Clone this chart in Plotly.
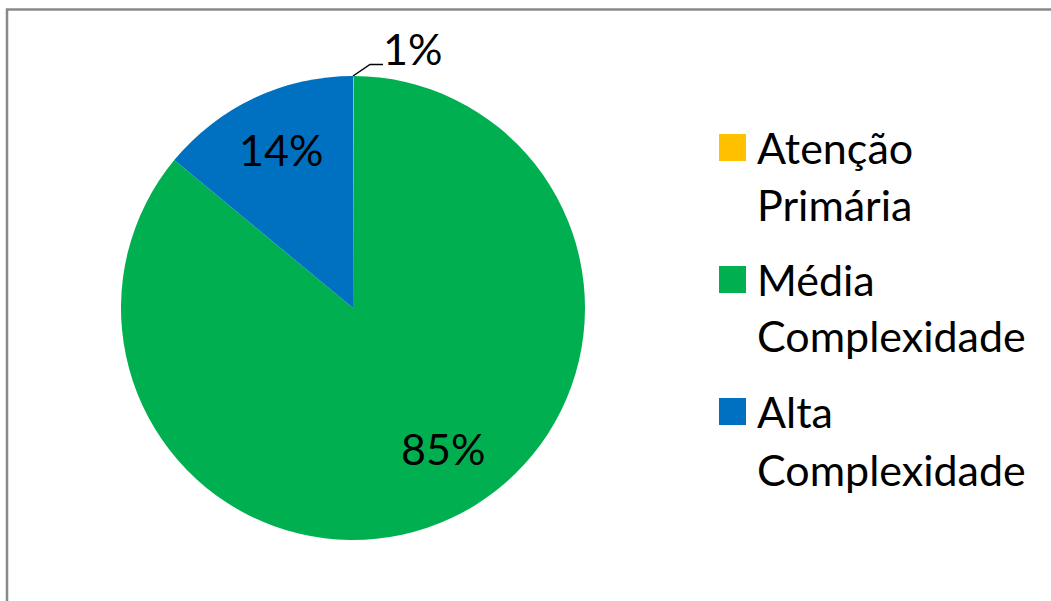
import plotly.graph_objects as go

W, H = 1051, 601

categories = ["Atenção Primária", "Média Complexidade", "Alta Complexidade"]
values = [0.05, 85.95, 14.0]
pct_labels = ["1%", "85%", "14%"]
colors = ["#FFC000", "#00B050", "#0070C0"]
legend_lines = [["Atenção", "Primária"], ["Média", "Complexidade"], ["Alta", "Complexidade"]]

FONT = "Lato"
FS = 43


def px(x):
    return x / W


def py(y):
    return 1 - y / H


fig = go.Figure()
fig.add_trace(go.Pie(
    labels=categories,
    values=values,
    textinfo="none",
    marker=dict(colors=colors, line=dict(width=0)),
    sort=False,
    direction="clockwise",
    rotation=0,
    showlegend=False,
    hoverinfo="label+percent",
    domain=dict(x=[px(121), px(585)], y=[py(540), py(76)]),
))

shapes = [
    # chart frame (left and top edges visible)
    dict(type="path", xref="paper", yref="paper",
         path=f"M {px(7)},{py(601)} L {px(7)},{py(9.5)} L {px(1051)},{py(9.5)}",
         line=dict(color="#898989", width=2.5)),
    # leader line for small slice
    dict(type="path", xref="paper", yref="paper",
         path=f"M {px(353)},{py(76)} L {px(370)},{py(64.5)} L {px(383)},{py(64.5)}",
         line=dict(color="black", width=1.5)),
]

label_pos = [(412, 48), (443, 448), (281, 149)]
annotations = []
for lab, (x, y) in zip(pct_labels, label_pos):
    annotations.append(dict(x=px(x), y=py(y), xref="paper", yref="paper", text=lab,
                            showarrow=False, xanchor="center", yanchor="middle",
                            font=dict(family=FONT, size=FS, color="black")))

sw_tops = [134, 266, 398]
line_centers = [[147, 205], [279, 336], [412, 469]]
for i, (col, lines) in enumerate(zip(colors, legend_lines)):
    t = sw_tops[i]
    shapes.append(dict(type="rect", xref="paper", yref="paper",
                       x0=px(719), x1=px(746), y0=py(t + 27), y1=py(t),
                       fillcolor=col, line=dict(width=0)))
    for ln, yc in zip(lines, line_centers[i]):
        annotations.append(dict(x=px(755), y=py(yc), xref="paper", yref="paper",
                                text=ln, showarrow=False, xanchor="left", yanchor="middle",
                                font=dict(family=FONT, size=FS, color="black")))

fig.update_layout(
    width=W, height=H,
    margin=dict(l=0, r=0, t=0, b=0),
    paper_bgcolor="white",
    plot_bgcolor="white",
    shapes=shapes,
    annotations=annotations,
    font=dict(family=FONT, size=FS, color="black"),
)

fig.write_html("out.html")
